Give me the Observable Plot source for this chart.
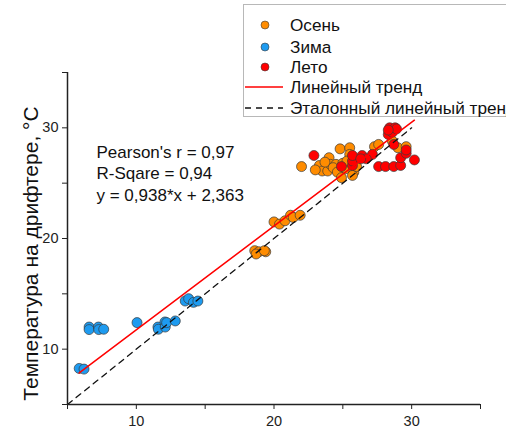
<!DOCTYPE html>
<html><head><meta charset="utf-8">
<script src="https://cdn.jsdelivr.net/npm/d3@7"></script>
<script src="https://cdn.jsdelivr.net/npm/@observablehq/plot@0.6"></script>
<style>
body{margin:0;background:#fff;overflow:hidden;font-family:"Liberation Sans",Arial,sans-serif;}
#wrap{position:relative;width:506px;height:429px;overflow:hidden;}
#legend{position:absolute;left:243px;top:4px;width:300px;height:113px;border:1px solid #b8b8b8;background:#fff;box-sizing:border-box;}
.row{position:absolute;left:0;height:20px;display:flex;align-items:center;font-size:17.2px;color:#111;white-space:nowrap;}
.row svg{display:block;margin-right:6px;}
</style></head>
<body><div id="wrap"><div id="legend"></div></div>
<script>
// ---- data (x = reference temperature, y = drifter temperature) ----
const autumnX = [18.6,18.9,19.4,18.7,19.3,20.0,20.4,20.8,21.2,21.4,21.9,22.0,23.3,23.5,23.9,24.0,24.1,24.5,23.7,24.3,24.8,24.6,25.0,25.2,25.5,25.5,25.3,25.8,25.7,26.0,27.3,27.6,29.0,29.6,28.6,23.0,24.9];
const autumnY = [18.9,18.8,18.8,18.6,18.9,21.5,21.3,21.6,22.1,21.9,22.1,26.5,26.6,26.1,26.1,27.3,26.7,26.7,26.9,26.4,28.1,26.0,26.8,26.3,28.2,27.6,27.0,26.0,25.7,26.5,28.3,28.5,28.2,28.3,28.8,26.2,25.5];
const winterX = [5.85,6.2,6.57,6.57,7.25,7.27,7.63,10.05,11.57,11.6,12.08,12.1,12.2,12.83,13.55,13.8,14.15,14.47];
const winterY = [8.26,8.2,12.0,11.77,12.0,11.77,11.8,12.4,12.0,11.8,12.46,12.0,12.4,12.55,14.35,14.56,14.23,14.35];
const summerX = [22.9,24.9,25.7,25.7,25.7,26.4,27.15,26.7,28.3,28.4,28.8,28.6,28.9,28.7,27.6,28.1,28.7,29.2,29.2,29.6,29.6,30.2,28.3,26.3];
const summerY = [27.5,26.5,26.6,27.0,27.5,27.5,27.6,27.2,29.4,30.0,30.0,29.6,29.9,28.5,26.5,26.5,26.5,26.6,27.3,27.7,28.0,27.1,29.8,27.2];

const seasonNames = ["Осень","Зима","Лето"];
const seasonColors = ["#ff8c00","#1e9bf0","#ff0000"];
const trendSlope = 0.938, trendIntercept = 2.363;
const statsLines = ["Pearson's r = 0,97","R-Sqare = 0,94","y = 0,938*x + 2,363"];
const lineNames = ["Линейный тренд","Эталонный линейный тренд"];
const yLabel = "Температура на дрифтере, °С";
const axisTicks = [5,10,15,20,25,30,35];
const refLineX = [5,30];

// ---- build tables ----
const pts = [];
[[autumnX,autumnY],[winterX,winterY],[summerX,summerY]].forEach(([xs,ys],k)=>{
  xs.forEach((x,i)=>pts.push({x, y:ys[i], s:seasonNames[k]}));
});
const allX = pts.map(d=>d.x);
const trend = d3.extent(allX).map(x=>({x, y: trendSlope*x + trendIntercept}));
const ref = refLineX.map(x=>({x, y:x}));

const fmt = d => d % 10 === 0 ? String(d) : "";

const chart = Plot.plot({
  width: 506, height: 429,
  marginLeft: 67, marginRight: 26, marginTop: 72, marginBottom: 25,
  style: {fontFamily: '"Liberation Sans", Arial, sans-serif', background: "#fff", color: "#222"},
  x: {domain: [5,35]},
  y: {domain: [5,35]},
  color: {domain: seasonNames, range: seasonColors},
  marks: [
    Plot.dot(pts, {x:"x", y:"y", fill:"s", r:5, stroke:"#3a3a3a", strokeWidth:0.7}),
    Plot.line(trend, {x:"x", y:"y", stroke:"#ff0000", strokeWidth:1.5}),
    Plot.line(ref, {x:"x", y:"y", stroke:"#111", strokeWidth:1.3, strokeDasharray:"6,5"}),
    Plot.ruleX([5], {stroke:"#222", strokeWidth:1.5}),
    Plot.ruleY([5], {stroke:"#222", strokeWidth:1.5}),
    Plot.axisX({ticks: axisTicks, tickFormat: fmt, tickSize: 5, tickPadding: 6, fontSize: 14.5, label: null, stroke:"#222"}),
    Plot.axisY({ticks: axisTicks, tickFormat: fmt, tickSize: 5, tickPadding: 4, fontSize: 14.5, label: null, stroke:"#222"}),
    Plot.text([statsLines.join("\n")], {frameAnchor:"top-left", text: d=>d, dx: 29, dy: 70, fontSize: 17, lineHeight: 1.27, textAnchor:"start", lineAnchor:"top", fill:"#111"}),
    Plot.text([yLabel], {frameAnchor:"left", text: d=>d, rotate:-90, dx:-36, dy:15, fontSize:21, textAnchor:"middle", fill:"#111"})
  ]
});
document.getElementById("wrap").appendChild(chart);

// ---- legend (HTML overlay, top-right) ----
const legend = document.getElementById("legend");
const rowTops = [10, 32, 52, 72, 93];
const entries = [
  ...seasonNames.map((n,i)=>({name:n, kind:"dot", color:seasonColors[i]})),
  {name:lineNames[0], kind:"line", color:"#ff0000"},
  {name:lineNames[1], kind:"dash", color:"#111"}
];
entries.forEach((e,i)=>{
  const row = document.createElement("div");
  row.className = "row";
  row.style.top = rowTops[i] + "px";
  const ns = "http://www.w3.org/2000/svg";
  const svg = document.createElementNS(ns, "svg");
  svg.setAttribute("width", 40); svg.setAttribute("height", 20);
  if (e.kind === "dot") {
    const c = document.createElementNS(ns, "circle");
    c.setAttribute("cx", 21); c.setAttribute("cy", 10); c.setAttribute("r", 4);
    c.setAttribute("fill", e.color); c.setAttribute("stroke", "#3a3a3a"); c.setAttribute("stroke-width", 0.6);
    svg.appendChild(c);
  } else {
    const l = document.createElementNS(ns, "line");
    l.setAttribute("x1", 1); l.setAttribute("x2", 39); l.setAttribute("y1", 10); l.setAttribute("y2", 10);
    l.setAttribute("stroke", e.color); l.setAttribute("stroke-width", 1.4);
    if (e.kind === "dash") l.setAttribute("stroke-dasharray", "6,5");
    svg.appendChild(l);
  }
  row.appendChild(svg);
  const t = document.createElement("span");
  t.textContent = e.name;
  row.appendChild(t);
  legend.appendChild(row);
});
</script>
</body></html>
